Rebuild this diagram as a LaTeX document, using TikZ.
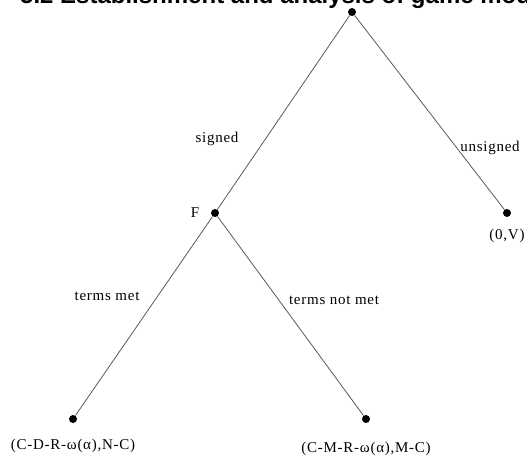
\documentclass[tikz,border=0pt]{standalone}
\usepackage{fontspec}
\setmainfont{Liberation Serif}
\newfontfamily\headfont{Liberation Sans}
\begin{document}
\begin{tikzpicture}[x=1pt,y=-1pt,
  font=\fontsize{15}{15}\selectfont,
  lab/.style={font=\fontsize{15}{15}\selectfont\addfontfeature{LetterSpace=5}}]
\useasboundingbox (0,0) rectangle (527,457);
\clip (0,0) rectangle (527,457);
\node[anchor=base west, inner sep=0, font=\headfont\bfseries\fontsize{24}{24}\selectfont] (head) at (20,4) {5.2 Establishment and analysis of game model};
\node[circle, minimum size=8pt, inner sep=0, fill] (nd0) at (352,12){};
\node[circle, minimum size=8pt, inner sep=0, fill] (nd1) at (215,213){};
\node[circle, minimum size=8pt, inner sep=0, fill] (nd2) at (507,213){};
\node[circle, minimum size=8pt, inner sep=0, fill] (nd3) at (73,419){};
\node[circle, minimum size=8pt, inner sep=0, fill] (nd4) at (366,419){};
\draw[gray!70!black, line width=0.8pt](nd0) -- (nd1);
\draw[gray!70!black, line width=0.8pt](nd0) -- (nd2);
\draw[gray!70!black, line width=0.8pt](nd1) -- (nd3);
\draw[gray!70!black, line width=0.8pt](nd1) -- (nd4);
\node[lab] (lab0) at (217,139){signed};
\node[lab] (lab1) at (490,148){unsigned};
\node[lab] (lab2) at (107,296){terms met};
\node[lab] (lab3) at (334,300){terms not met};
\node[lab] (lab4) at (195,213){F};
\node[lab] (lab5) at (507,236){(0,V)};
\node[lab] (lab6) at (73,446){(C-D-R-ω(α),N-C)};
\node[lab] (lab7) at (366,449){(C-M-R-ω(α),M-C)};
\end{tikzpicture}
\end{document}
